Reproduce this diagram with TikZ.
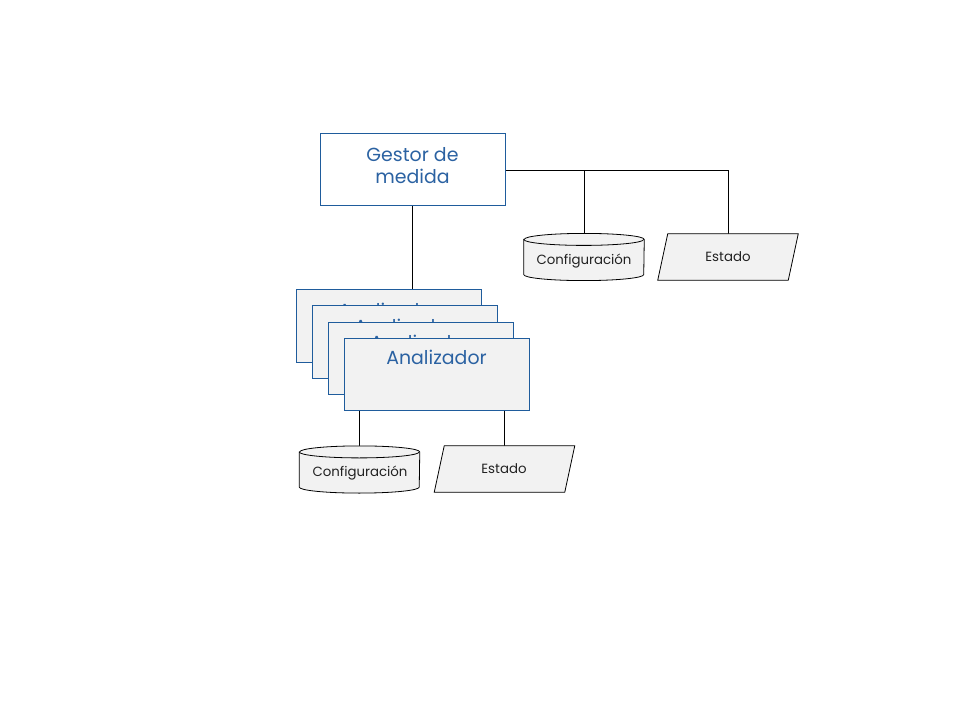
\documentclass[tikz,border=0pt]{standalone}
\usepackage{fontspec}
\setmainfont{Poppins}
\usetikzlibrary{calc}
\definecolor{boxblue}{HTML}{1F5C9C}
\definecolor{txtblue}{HTML}{2B62A2}
\definecolor{lightfill}{HTML}{F2F2F2}
\definecolor{txtdark}{HTML}{222222}
\newcommand{\drawcyl}[1]{%
  \draw[shapeline, fill=lightfill] ($(#1.north west)+(0,6)$) -- ($(#1.south west)+(0,-6)$)
    arc[start angle=180, end angle=360, x radius=45pt, y radius=4.5pt]
    -- ($(#1.north east)+(0,6)$)
    arc[start angle=0, end angle=180, x radius=45pt, y radius=4.5pt] -- cycle;
  \draw[shapeline] ($(#1.north west)+(0,6)$)
    arc[start angle=180, end angle=360, x radius=45pt, y radius=4.5pt];
}
\newcommand{\drawpar}[1]{%
  \draw[shapeline, fill=lightfill] ($(#1.north west)+(10,0)$) -- (#1.north east)
    -- ($(#1.south east)+(-10,0)$) -- (#1.south west) -- cycle;
}
\begin{document}
\begin{tikzpicture}[x=0.75pt, y=-0.75pt,
  mainbox/.style={draw=boxblue, line width=0.75pt, minimum width=138.75pt, minimum height=54pt, inner sep=0pt},
  bigtext/.style={text=txtblue, font=\fontsize{14.2}{16.5}\selectfont, align=center, inner sep=0pt},
  smalltext/.style={text=txtdark, font=\fontsize{10}{11}\selectfont, inner sep=0pt},
  cylbox/.style={minimum width=90pt, minimum height=35pt, inner sep=0pt},
  parbox/.style={minimum width=105pt, minimum height=34.5pt, inner sep=0pt},
  shapeline/.style={draw=black, line width=0.6pt},
  conn/.style={draw=black, line width=0.75pt}]
\useasboundingbox (0,0) rectangle (960,720);

% top level
\node[mainbox, fill=white] (gestor) at (412.5,170) {};
\node[bigtext] (gestort) at (412.5,166) {Gestor de\\medida};

\node[cylbox] (cfg1) at (584,257) {};
\node[parbox] (est1) at (728,257) {};

\draw[conn] (gestor.east |- 0,171) -- (est1.north |- 0,171) -- (est1.north);
\draw[conn] (cfg1.north |- 0,171) -- (cfg1.north);
\drawcyl{cfg1}
\drawpar{est1}
\node[smalltext] (cfg1t) at (584,261) {Configuración};
\node[smalltext] (est1t) at (728,257) {Estado};

% stacked analyzers
\node[mainbox, fill=lightfill] (a1) at (388.5,326) {};
\node[bigtext] (a1t) at ($(a1.north)+(0,21)$) {Analizador};
\node[mainbox, fill=lightfill] (a2) at (404.5,342) {};
\node[bigtext] (a2t) at ($(a2.north)+(0,21)$) {Analizador};
\node[mainbox, fill=lightfill] (a3) at (420.5,358) {};
\node[bigtext] (a3t) at ($(a3.north)+(0,21)$) {Analizador};
\node[mainbox, fill=lightfill] (a4) at (436.5,374) {};
\node[bigtext] (a4t) at ($(a4.north)+(0,20)$) {Analizador};

\draw[conn] (gestor.south) -- (gestor.south |- a1.north);

% lower level
\node[cylbox] (cfg2) at (359.5,469.5) {};
\node[parbox] (est2) at (504.5,469) {};
\draw[conn] (cfg2.north |- a4.south) -- (cfg2.north);
\draw[conn] (est2.north |- a4.south) -- (est2.north);
\drawcyl{cfg2}
\drawpar{est2}
\node[smalltext] (cfg2t) at (360,473) {Configuración};
\node[smalltext] (est2t) at (504,469) {Estado};
\end{tikzpicture}
\end{document}
